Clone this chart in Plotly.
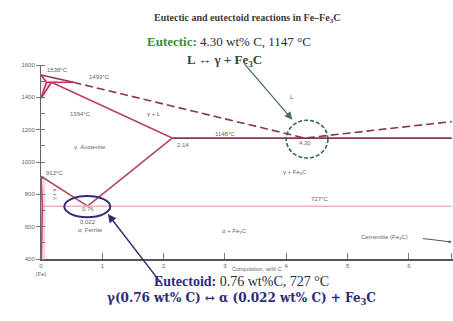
import plotly.graph_objects as go

# ---- phase-boundary data (wt% C, temperature in degC) ----
liquidus_c = [0.0, 0.53, 4.30, 6.70]
liquidus_t = [1538, 1493, 1148, 1250]
delta_solidus_c = [0.0, 0.09]
delta_solidus_t = [1538, 1493]
peritectic_c = [0.09, 0.53]
peritectic_t = [1493, 1493]
delta_gamma_c = [0.0, 0.09]
delta_gamma_t = [1394, 1493]
gamma_delta_c = [0.0, 0.17]
gamma_delta_t = [1394, 1493]
gamma_solidus_c = [0.17, 2.14]
gamma_solidus_t = [1493, 1148]
eutectic_line_c = [2.14, 6.70]
eutectic_line_t = [1148, 1148]
acm_c = [2.14, 0.76]
acm_t = [1148, 727]
a3_c = [0.0, 0.76]
a3_t = [912, 727]
eutectoid_line_c = [0.022, 6.70]
eutectoid_line_t = [727, 727]
alpha_solvus_c = [0.0, 0.022, 0.005]
alpha_solvus_t = [912, 727, 400]

eutectic_point = (4.30, 1148)
eutectoid_point = (0.76, 727)

x_ticks = [0, 1, 2, 3, 4, 5, 6, 6.7]
x_tick_text = ["0<br>(Fe)", "1", "2", "3", "4", "5", "6", "6.7"]
y_ticks = [400, 600, 800, 1000, 1200, 1400, 1600]

# region / point labels: (wt% C, degC, text)
region_labels = [
    (0.27, 1568, "1538°C"),
    (0.96, 1526, "1493°C"),
    (0.65, 1300, "1394°C"),
    (1.85, 1300, "γ + L"),
    (4.1, 1400, "L"),
    (0.8, 1095, "γ, Austenite"),
    (3.0, 1173, "1148°C"),
    (2.32, 1105, "2.14"),
    (4.30, 1117, "4.30"),
    (4.15, 935, "γ + Fe<sub>3</sub>C"),
    (0.22, 935, "912°C"),
    (0.76, 709, "0.76"),
    (0.77, 629, "0.022"),
    (0.8, 579, "α, Ferrite"),
    (3.16, 573, "α + Fe<sub>3</sub>C"),
    (4.55, 771, "727°C"),
]

W, H = 453, 321
ML, MR, MT, MB = 41, 0, 65, 62
PW, PH = W - ML - MR, H - MT - MB


def px(x):
    return (x - ML) / PW


def py(y):
    return (H - MB - y) / PH


LINE = "#b8445e"
DARK = "#8e3448"
LIGHT = "#e9b3bd"
LABEL_FONT = dict(family="Liberation Sans", size=6, color="#666")

fig = go.Figure()


def boundary(c, t, color=LINE, width=1.6, dash="solid"):
    fig.add_trace(go.Scatter(x=c, y=t, mode="lines", hoverinfo="skip",
                             line=dict(color=color, width=width, dash=dash)))


# light shading of the delta field and the ferrite field
fig.add_trace(go.Scatter(x=[0.0, 0.09, 0.3, 0.17, 0.0], y=[1560, 1500, 1510, 1470, 1394],
                         fill="toself", fillcolor="rgba(240,175,195,0.35)",
                         line=dict(width=0), mode="lines", hoverinfo="skip"))
fig.add_shape(type="rect", x0=0, x1=0.07, y0=400, y1=912, line_width=0,
              fillcolor="rgba(240,170,190,0.5)", layer="below")

boundary(liquidus_c[:2], liquidus_t[:2], color=DARK)
boundary(liquidus_c[1:], liquidus_t[1:], color=DARK, width=1.6, dash="8px,4px")
boundary(delta_solidus_c, delta_solidus_t, color="#c0306a")
boundary(peritectic_c, peritectic_t, color="#c0306a")
boundary(delta_gamma_c, delta_gamma_t, color="#c0306a")
boundary(gamma_delta_c, gamma_delta_t, color="#c0306a")
boundary(gamma_solidus_c, gamma_solidus_t)
boundary(eutectic_line_c, eutectic_line_t, color=DARK, width=1.8)
boundary(acm_c, acm_t)
boundary(a3_c, a3_t)
boundary(eutectoid_line_c, eutectoid_line_t, color=LIGHT, width=1.5)
boundary(alpha_solvus_c, alpha_solvus_t, color="#d04060", width=1.6)

# marker circles round the invariant points
ex, et = eutectic_point
fig.add_shape(type="circle", xref="x", yref="y",
              x0=ex - 0.30, x1=ex + 0.38, y0=et - 123, y1=et + 110,
              line=dict(color="#2f6b45", width=1.6, dash="4px,2px"))
dx, dt = eutectoid_point
fig.add_shape(type="circle", xref="x", yref="y",
              x0=dx - 0.38, x1=dx + 0.37, y0=dt - 68, y1=dt + 62,
              line=dict(color="#30307a", width=2))

annotations = []
for c, t, s in region_labels:
    annotations.append(dict(x=c, y=t, xref="x", yref="y", text=s, showarrow=False,
                            font=LABEL_FONT))

# two-phase field label written up the narrow gamma + alpha wedge
annotations.append(dict(x=0.22, y=800, xref="x", yref="y", text="γ + α", textangle=-90,
                        showarrow=False, font=dict(family="Liberation Sans", size=5, color="#666")))

# cementite label with its pointer to the Fe3C composition
annotations.append(dict(x=6.7, y=505, xref="x", yref="y", ax=6.2, ay=528,
                        axref="x", ayref="y", text="", showarrow=True, arrowhead=2,
                        arrowsize=0.6, arrowwidth=1, arrowcolor="#555"))
annotations.append(dict(x=5.6, y=530, xref="x", yref="y", text="Cementite (Fe<sub>3</sub>C)",
                        showarrow=False, font=LABEL_FONT))

# arrows pointing at the circled points
annotations.append(dict(x=4.1, y=1262, xref="x", yref="y",
                        ax=3.3, ay=1615, axref="x", ayref="y",
                        text="", showarrow=True, arrowhead=2, arrowsize=1.2,
                        arrowwidth=1.3, arrowcolor="#4d6f60"))
annotations.append(dict(x=1.09, y=678, xref="x", yref="y",
                        ax=1.99, ay=235, axref="x", ayref="y",
                        text="", showarrow=True, arrowhead=2, arrowsize=1.2,
                        arrowwidth=1.4, arrowcolor="#2b2b6a"))

SERIF = "Liberation Serif"
annotations += [
    dict(x=px(257), y=py(274), xref="paper", yref="paper", showarrow=False,
         text="Composition, wt% C", font=dict(family="Liberation Sans", size=5.5, color="#666")),
    dict(x=0.5, y=py(10), xref="paper", yref="paper", showarrow=False,
         text="<b>Eutectic and eutectoid reactions in Fe–Fe<sub>3</sub>C</b>",
         font=dict(family=SERIF, size=10, color="#3a3a3a")),
    dict(x=px(229), y=py(32), xref="paper", yref="paper", showarrow=False,
         text="<b><span style='color:#3b8b3b'>Eutectic:</span></b> 4.30 wt% C, 1147 °C",
         font=dict(family=SERIF, size=13, color="#2a2a3a")),
    dict(x=px(224), y=py(50), xref="paper", yref="paper", showarrow=False,
         text="<b>L ↔ γ + Fe<sub>3</sub>C</b>",
         font=dict(family=SERIF, size=13, color="#2d4a35")),
    dict(x=px(241), y=py(291), xref="paper", yref="paper", showarrow=False,
         text="<b><span style='color:#2b2b80'>Eutectoid:</span></b> 0.76 wt%C, 727 °C",
         font=dict(family=SERIF, size=14, color="#2a2a3a")),
    dict(x=px(241), y=py(309), xref="paper", yref="paper", showarrow=False,
         text="<b>γ(0.76 wt% C) ↔ α (0.022 wt% C) + Fe<sub>3</sub>C</b>",
         font=dict(family="DejaVu Serif", size=12, color="#2b2b78")),
]

fig.update_layout(
    width=W, height=H,
    margin=dict(l=ML, r=MR, t=MT, b=MB),
    paper_bgcolor="white", plot_bgcolor="white",
    showlegend=False,
    annotations=annotations,
    xaxis=dict(range=[0, 6.72], tickvals=x_ticks, ticktext=x_tick_text,
               showgrid=False, zeroline=False, showline=True, linecolor="#555",
               linewidth=1.5, ticks="inside", ticklen=6, tickcolor="#777",
               tickfont=LABEL_FONT),
    yaxis=dict(range=[400, 1600], tickvals=y_ticks,
               showgrid=False, zeroline=False, showline=True, linecolor="#666",
               linewidth=1, ticks="outside", ticklen=4, tickcolor="#777",
               tickfont=LABEL_FONT,
               minor=dict(dtick=100, ticks="inside", ticklen=4, tickcolor="#777")),
)

fig.write_html("out.html")
